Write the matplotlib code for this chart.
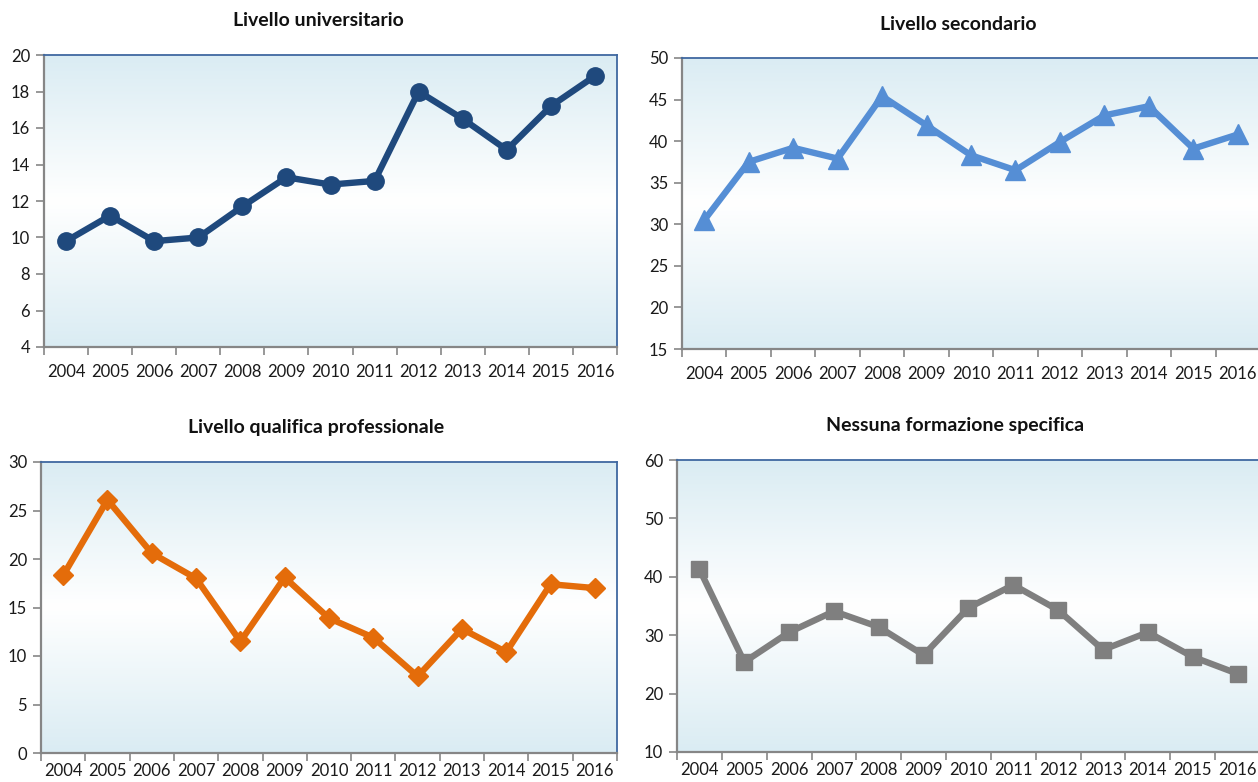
import numpy as np
import matplotlib
matplotlib.use("Agg")
import matplotlib.pyplot as plt
from matplotlib.colors import LinearSegmentedColormap

plt.rcParams['font.family'] = ['Lato', 'DejaVu Sans']

years = ["2004", "2005", "2006", "2007", "2008", "2009", "2010",
         "2011", "2012", "2013", "2014", "2015", "2016"]

universitario = [9.8, 11.2, 9.8, 10.0, 11.7, 13.3, 12.9, 13.1, 18.0, 16.5, 14.8, 17.2, 18.85]
secondario = [30.5, 37.5, 39.2, 37.9, 45.4, 41.9, 38.3, 36.5, 39.9, 43.1, 44.2, 39.1, 40.8]
qualifica = [18.3, 26.1, 20.6, 18.0, 11.5, 18.1, 13.9, 11.9, 7.9, 12.8, 10.4, 17.4, 17.0]
nessuna = [41.3, 25.4, 30.5, 34.1, 31.4, 26.6, 34.7, 38.6, 34.3, 27.5, 30.5, 26.3, 23.4]

titles = ["Livello universitario", "Livello secondario",
          "Livello qualifica professionale", "Nessuna formazione specifica"]

W, H = 1258, 782
fig = plt.figure(figsize=(W / 100, H / 100), dpi=100)

def box(l, r, t, b):
    return [l / W, 1 - b / H, (r - l) / W, (b - t) / H]

panels = [
    dict(pos=box(44, 617, 55, 347), data=universitario, ylim=(4, 20), step=2,
         color="#1F497D", marker="o", ms=12.5, title=titles[0], tx=318, ty=20, xpad=12),
    dict(pos=box(682, 1260, 58, 349), data=secondario, ylim=(15, 50), step=5,
         color="#558ED5", marker="^", ms=14, title=titles[1], tx=958, ty=25, xpad=12),
    dict(pos=box(41, 617, 462, 753), data=qualifica, ylim=(0, 30), step=5,
         color="#E46C0A", marker="D", ms=10, title=titles[2], tx=316, ty=428, xpad=7),
    dict(pos=box(677, 1260, 460, 752), data=nessuna, ylim=(10, 60), step=10,
         color="#7F7F7F", marker="s", ms=11.5, title=titles[3], tx=955, ty=425, xpad=7),
]

c1 = np.array([218, 236, 243]) / 255.0
grad_cmap = LinearSegmentedColormap.from_list(
    "bg", [(0.0, c1), (0.5, (1, 1, 1)), (1.0, c1)])

x = np.arange(len(years))
for p in panels:
    ax = fig.add_axes(p["pos"])
    ax.set_xlim(-0.5, len(years) - 0.5)
    ax.set_ylim(*p["ylim"])
    grad = np.linspace(0, 1, 256).reshape(-1, 1)
    ax.imshow(grad, cmap=grad_cmap, aspect="auto", extent=[0, 1, 0, 1],
              transform=ax.transAxes, zorder=0, interpolation="bicubic")
    ax.plot(x, p["data"], color=p["color"], lw=4.6, marker=p["marker"],
            ms=p["ms"], mec=p["color"], mfc=p["color"], zorder=3,
            solid_joinstyle="round", clip_on=False)
    ax.set_xticks(np.arange(-0.5, len(years), 1.0))
    ax.set_xticklabels([])
    ax.set_xticks(x, minor=True)
    ax.set_xticklabels(years, minor=True)
    ax.tick_params(axis="x", which="major", length=6, width=1.2,
                   color="#868686", direction="out")
    ax.tick_params(axis="x", which="minor", length=0, pad=p["xpad"], labelsize=12,
                   labelcolor="#1a1a1a")
    ax.set_yticks(np.arange(p["ylim"][0], p["ylim"][1] + 0.01, p["step"]))
    ax.tick_params(axis="y", length=6, width=1.2, color="#868686",
                   direction="out", pad=4, labelsize=12, labelcolor="#1a1a1a")
    for s in ("left", "bottom"):
        ax.spines[s].set_color("#868686")
        ax.spines[s].set_linewidth(1.6)
    for s in ("top", "right"):
        ax.spines[s].set_color("#3F68A0")
        ax.spines[s].set_linewidth(1.3)
    fig.text(p["tx"] / W, 1 - p["ty"] / H, p["title"], ha="center",
             va="center", fontsize=14, fontweight="bold", color="#111111")

fig.savefig("out.png", dpi=100)
